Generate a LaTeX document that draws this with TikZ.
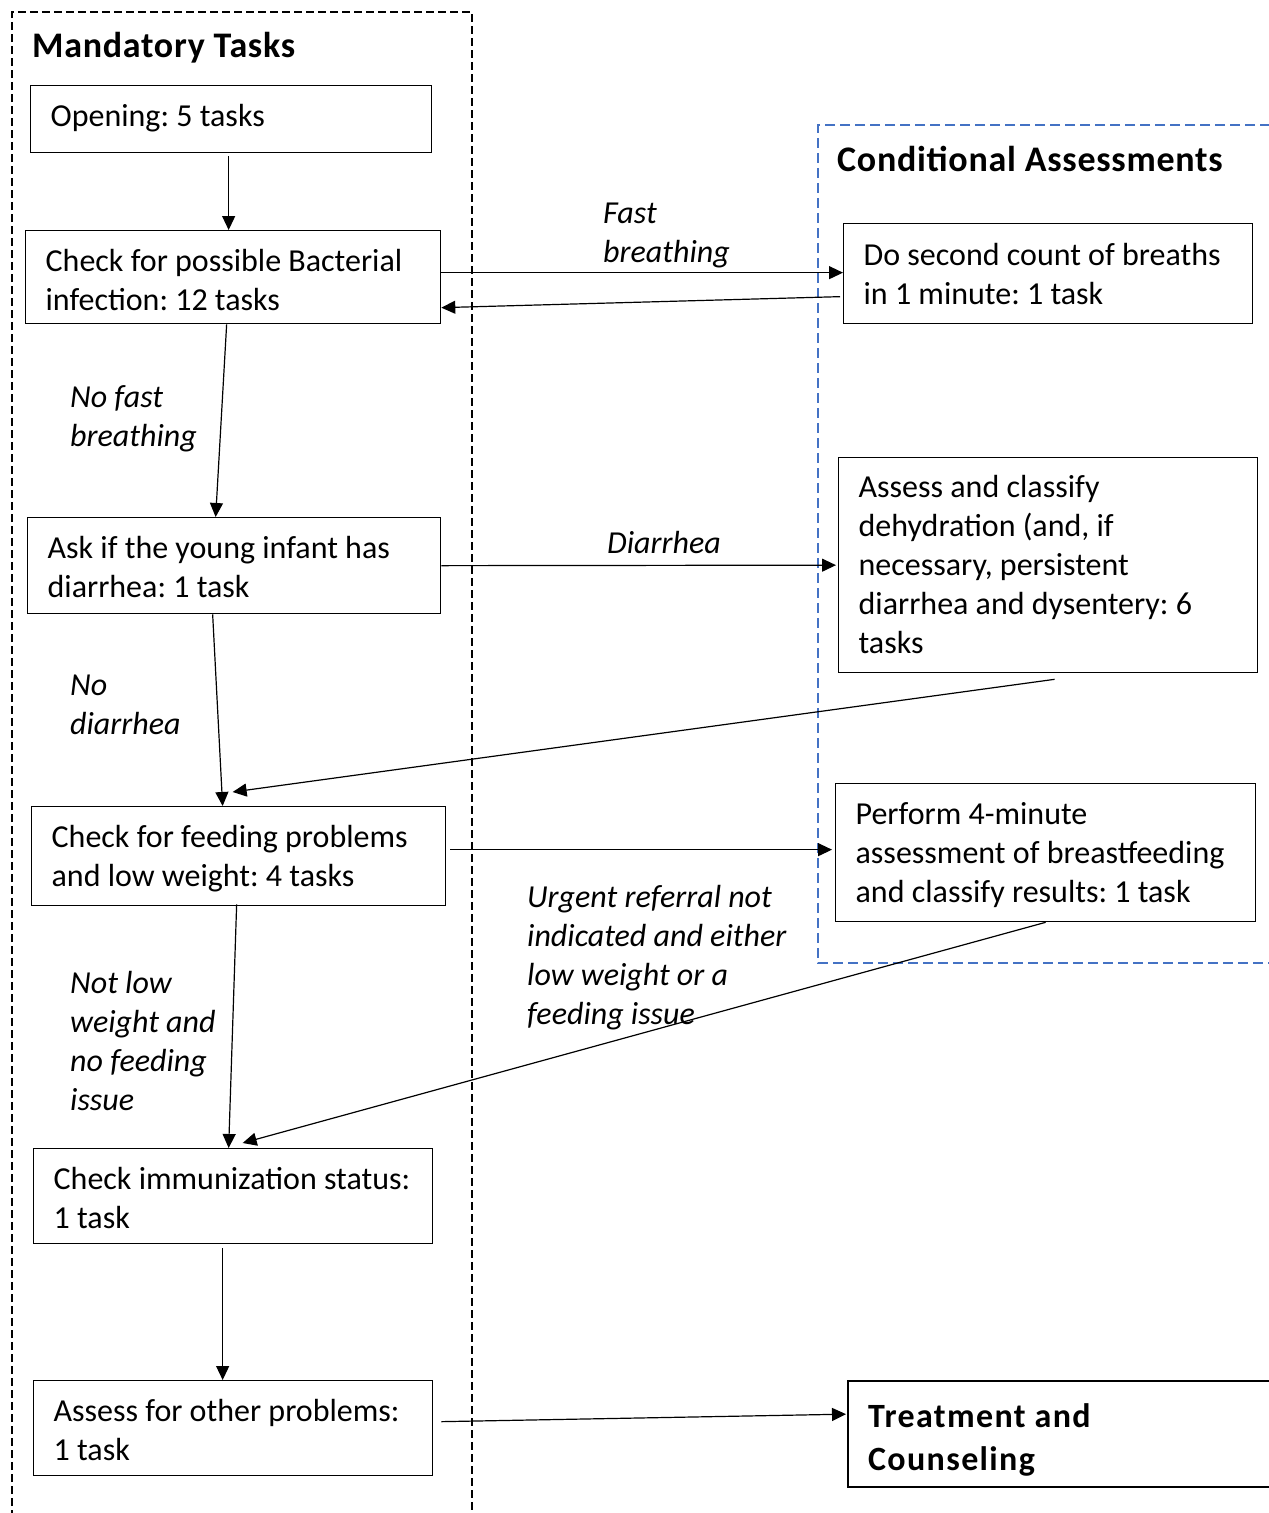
\documentclass[tikz,border=0pt]{standalone}
\usepackage{fontspec}
\setmainfont{Carlito}
\newfontfamily\titlefam[LetterSpace=2]{Carlito}
\newfontfamily\treatfam[LetterSpace=4]{Carlito}
\usetikzlibrary{arrows.meta,calc}
\definecolor{dashblue}{HTML}{4472C4}
\frenchspacing
\newcommand{\txtline}[1]{\mbox{\strut #1}}
% #1 total height, #2 text width, #3 first baseline offset, #4 lines
\newcommand{\boxtext}[4]{\parbox[c][#1pt][t]{#2pt}{\rule{0pt}{#3pt}#4}}
\newcommand{\boxfont}{\fontsize{32}{39}\selectfont}
\newcommand{\labfont}{\fontsize{32}{39}\selectfont\itshape}
\newcommand{\titfont}{\titlefam\fontsize{36}{42}\selectfont\bfseries}
\newcommand{\trfont}{\treatfam\fontsize{34}{43}\selectfont\bfseries}
\begin{document}
\begin{tikzpicture}[x=1pt,y=-1pt,
 box/.style={draw, line width=1.3pt, rectangle, anchor=north west, inner xsep=20pt, inner ysep=0pt, font=\boxfont},
 lab/.style={anchor=west, inner sep=0pt, align=left, font=\labfont},
 ttl/.style={anchor=base west, inner sep=0pt, font=\titfont},
 arr/.style={-{Triangle[length=14pt,width=13pt]}, line width=1.2pt},
 grp/.style={dash pattern=on 8pt off 4pt, line width=1.5pt}]
\useasboundingbox (0,0) rectangle (1269,1513);
\clip (0,0) rectangle (1269,1513);
% group frames
\draw[grp] (12,1530) -- (12,12) -- (472,12) -- (472,1530);
\draw[grp, dashblue, dash pattern=on 10pt off 5pt] (1300,125) -- (818,125) -- (818,963) -- (1300,963);
% titles
\node[ttl] (tman) at (32,57.5) {Mandatory Tasks};
\node[ttl] (tcond) at (837,171) {Conditional Assessments};
% boxes
\node[box] (open) at (30,85) {\boxtext{67}{361}{40.5}{\txtline{Opening: 5 tasks}}};
\node[box] (bact) at (25,230) {\boxtext{93}{375}{41}{\txtline{Check for possible Bacterial}\\\txtline{infection: 12 tasks}}};
\node[box] (sec) at (843,223) {\boxtext{100}{369}{41.5}{\txtline{Do second count of breaths}\\\txtline{in 1 minute: 1 task}}};
\node[box] (diar) at (27,517) {\boxtext{96}{373}{40.5}{\txtline{Ask if the young infant has}\\\txtline{diarrhea: 1 task}}};
\node[box] (dehyd) at (838,457) {\boxtext{215}{379}{39.5}{\txtline{Assess and classify}\\\txtline{dehydration (and, if}\\\txtline{necessary, persistent}\\\txtline{diarrhea and dysentery: 6}\\\txtline{tasks}}};
\node[box] (feed) at (31,806) {\boxtext{99}{374}{41}{\txtline{Check for feeding problems}\\\txtline{and low weight: 4 tasks}}};
\node[box] (breast) at (835,783) {\boxtext{138}{380}{41}{\txtline{Perform 4-minute}\\\txtline{assessment of breastfeeding}\\\txtline{and classify results: 1 task}}};
\node[box] (immun) at (33,1148) {\boxtext{95}{359}{41}{\txtline{Check immunization status:}\\\txtline{1 task}}};
\node[box] (other) at (33,1380) {\boxtext{95}{359}{40.5}{\txtline{Assess for other problems:}\\\txtline{1 task}}};
\node[box, line width=2.3pt, font=\trfont] (treat) at (847,1380) {\boxtext{106}{410}{46}{\txtline{Treatment and}\\\txtline{Counseling}}};
% labels
\node[lab] (lfast) at (603,235.5) {\txtline{Fast}\\\txtline{breathing}};
\node[lab] (lnofast) at (70,419.5) {\txtline{No fast}\\\txtline{breathing}};
\node[lab, anchor=base west] (ldiar) at (607,553) {Diarrhea};
\node[lab] (lnodiar) at (70,707.5) {\txtline{No}\\\txtline{diarrhea}};
\node[lab] (lnotlow) at (70,1044.5) {\txtline{Not low}\\\txtline{weight and}\\\txtline{no feeding}\\\txtline{issue}};
\node[lab] (lurgent) at (527,958.5) {\txtline{Urgent referral not}\\\txtline{indicated and either}\\\txtline{low weight or a}\\\txtline{feeding issue}};
% connectors
\draw[arr] ([xshift=-2.5pt,yshift=-3pt]open.south) -- ([xshift=-4.5pt]bact.north);
\draw[arr] ([yshift=4.5pt]bact.east) -- ([yshift=4.5pt]bact.east -| sec.west);
\draw[arr] ([xshift=-3pt,yshift=-23pt]sec.west) -- ([yshift=-30.5pt]bact.east);
\draw[arr] ([xshift=-6.5pt]bact.south) -- ([xshift=-18.5pt]diar.north);
\draw[arr] (diar.east) -- ([xshift=-2pt]dehyd.west);
\draw[arr] ([xshift=-21.5pt]diar.south) -- ([xshift=-16pt]feed.north);
\draw[arr] ([xshift=6.5pt,yshift=-6pt]dehyd.south) -- ([xshift=-6pt,yshift=14pt]feed.north);
\draw[arr] ([xshift=4pt,yshift=6.5pt]feed.east) -- ([xshift=-3pt,yshift=3pt]breast.west);
\draw[arr] ([xshift=-2pt,yshift=2pt]feed.south) -- ([xshift=-4.5pt]immun.north);
\draw[arr] (breast.south) -- ([xshift=9.5pt,yshift=5pt]immun.north);
\draw[arr] ([xshift=-10.5pt,yshift=-4pt]immun.south) -- ([xshift=-10.5pt]other.north);
\draw[arr] ([xshift=8pt,yshift=6.5pt]other.east) -- ([xshift=-1pt,yshift=20pt]treat.west);
\end{tikzpicture}
\end{document}
